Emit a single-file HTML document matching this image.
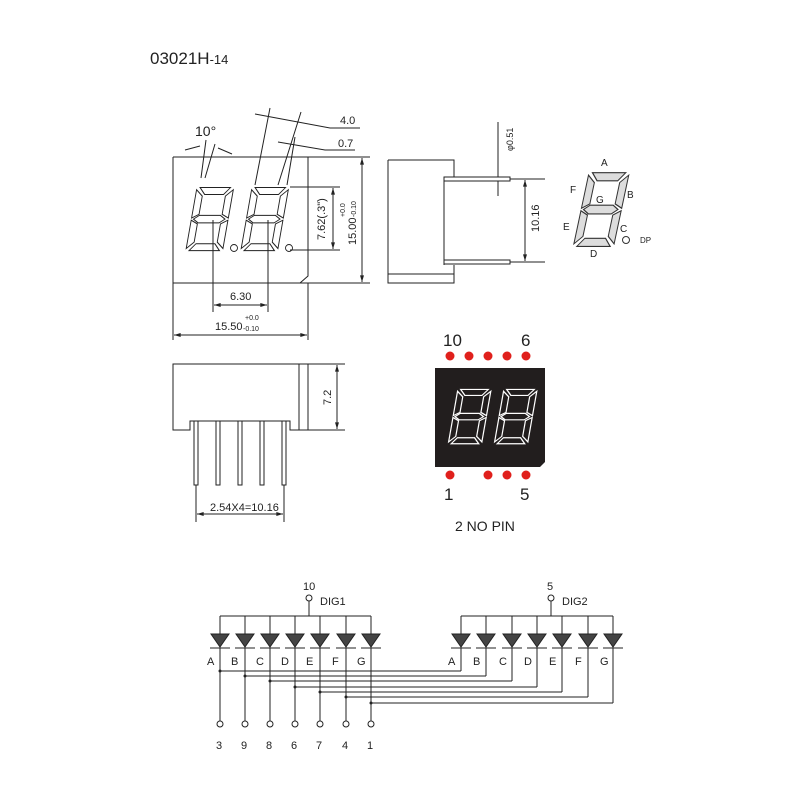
<!DOCTYPE html>
<html><head><meta charset="utf-8"><style>
html,body{margin:0;padding:0;background:#fff}
svg{display:block}
text{font-family:"Liberation Sans",sans-serif;fill:#222}
</style></head><body>
<svg width="800" height="800" viewBox="0 0 800 800" xmlns="http://www.w3.org/2000/svg">
<defs>
<g id="dg">
<polygon points="4,0.5 33,0.5 27.5,7 9.5,7"/>
<polygon points="3,30 8,26.5 28,26.5 33,30 28,33.5 8,33.5"/>
<polygon points="4,59.5 33,59.5 27.5,53 9.5,53"/>
<polygon points="1,2.5 7.5,8.5 7.5,25.5 1,29"/>
<polygon points="36,2.5 36,29 29.5,25.5 29.5,8.5"/>
<polygon points="1,31 7.5,34.5 7.5,51.5 1,57.5"/>
<polygon points="36,31 36,57.5 29.5,51.5 29.5,34.5"/>
</g>
<marker id="ar" viewBox="0 0 10 6" refX="10" refY="3" markerWidth="8" markerHeight="4" orient="auto-start-reverse"><path d="M0,0 L10,3 L0,6 z" fill="#222"/></marker>
</defs>
<text x="150" y="64" font-size="17">03021H<tspan font-size="13">-14</tspan></text>

<g stroke="#222" stroke-width="1" fill="none">
<path d="M173,157 H370 M173,157 V340 M308,157 V276 L300,283 M173,283 H370 M308,283 V340"/>
<line x1="362" y1="158" x2="362" y2="282" marker-start="url(#ar)" marker-end="url(#ar)"/>
<path d="M290,187 H340 M290,250 H340"/>
<line x1="333" y1="188" x2="333" y2="249" marker-start="url(#ar)" marker-end="url(#ar)"/>
<path d="M213,220 V312 M268,220 V312"/>
<line x1="214" y1="305" x2="267" y2="305" marker-start="url(#ar)" marker-end="url(#ar)"/>
<line x1="174" y1="335" x2="307" y2="335" marker-start="url(#ar)" marker-end="url(#ar)"/>
<path d="M201,178 L206,140 M205,178 L215,144"/>
<path d="M185,150 L200,146 M218,148 L232,154"/>
<path d="M255,185 L270,108 M278,185 L301,112 M287,185 L295,137"/>
<path d="M255,114 L330,128 H360 M278,142 L325,150 H355"/>
<path d="M388,160 H454 V177 M388,160 V283 H454 V265 M388,274 H454 M444,177 V265"/>
<rect x="444" y="177" width="66" height="4"/>
<rect x="444" y="260" width="66" height="4"/>
<path d="M510,179 H545 M510,262 H545"/>
<line x1="525" y1="180" x2="525" y2="261" marker-start="url(#ar)" marker-end="url(#ar)"/>
<path d="M498,122 V177 M498,181 V196"/>
<path d="M173,364 H308 V430 H290 V421 H190 V430 H173 Z M299,364 V430 M308,364 H345 M308,430 H345"/>
<line x1="337" y1="365" x2="337" y2="429" marker-start="url(#ar)" marker-end="url(#ar)"/>
<rect x="194" y="421" width="4" height="64"/><rect x="216" y="421" width="4" height="64"/>
<rect x="238" y="421" width="4" height="64"/><rect x="260" y="421" width="4" height="64"/>
<rect x="282" y="421" width="4" height="64"/>
<path d="M196,485 V522 M284,485 V522"/>
<line x1="197" y1="514" x2="283" y2="514" marker-start="url(#ar)" marker-end="url(#ar)"/>
</g>
<g fill="none" stroke="#222" stroke-width="0.9">
<use href="#dg" transform="translate(196,187) skewX(-10) scale(1.05,1.07)"/>
<use href="#dg" transform="translate(251,187) skewX(-10) scale(1.05,1.07)"/>
<circle cx="234" cy="248" r="3.5"/><circle cx="289" cy="248" r="3.5"/>
</g>
<g fill="#ddd" stroke="#333" stroke-width="0.9">
<use href="#dg" transform="translate(588,172) skewX(-12) scale(1.15,1.25)"/>
</g>
<circle cx="626" cy="240" r="3.5" fill="none" stroke="#333"/>
<g font-size="10">
<text x="601" y="166">A</text><text x="570" y="193">F</text><text x="627" y="198">B</text>
<text x="596" y="203">G</text><text x="563" y="230">E</text><text x="620" y="232">C</text>
<text x="590" y="257">D</text><text x="640" y="243" font-size="8">DP</text>
</g>
<g font-size="11">
<text x="195" y="136" font-size="14">10°</text>
<text x="340" y="124">4.0</text><text x="338" y="147">0.7</text>
<text x="230" y="300">6.30</text>
<text x="215" y="330">15.50</text>
<text x="245" y="320" font-size="7">+0.0</text><text x="243" y="331" font-size="7">-0.10</text>
<text x="210" y="511">2.54X4=10.16</text>
<text transform="translate(325,240) rotate(-90)">7.62(.3")</text>
<text transform="translate(356,245) rotate(-90)">15.00</text>
<text transform="translate(345,217) rotate(-90)" font-size="7">+0.0</text>
<text transform="translate(356,217) rotate(-90)" font-size="7">-0.10</text>
<text transform="translate(539,232) rotate(-90)">10.16</text>
<text transform="translate(513,151) rotate(-90)" font-size="9">φ0.51</text>
<text transform="translate(331,405) rotate(-90)">7.2</text>
</g>
<path d="M435,368 H545 V462 L540,467 H435 Z" fill="#221e1e"/>
<g fill="none" stroke="#fff" stroke-width="1.3">
<use href="#dg" transform="translate(457,389) skewX(-10) scale(0.95,0.92)"/>
<use href="#dg" transform="translate(503,389) skewX(-10) scale(0.95,0.92)"/>
</g>
<g fill="#e0201c">
<circle cx="450" cy="356" r="4.5"/><circle cx="469" cy="356" r="4.5"/><circle cx="488" cy="356" r="4.5"/><circle cx="507" cy="356" r="4.5"/><circle cx="526" cy="356" r="4.5"/>
<circle cx="450" cy="475" r="4.5"/><circle cx="488" cy="475" r="4.5"/><circle cx="507" cy="475" r="4.5"/><circle cx="526" cy="475" r="4.5"/>
</g>
<g font-size="17">
<text x="443" y="346">10</text><text x="521" y="346">6</text>
<text x="444" y="500">1</text><text x="520" y="500">5</text>
<text x="455" y="531" font-size="14">2 NO PIN</text>
</g>

<g stroke="#222" stroke-width="1" fill="none">
<path d="M220,616 H371 M309,601 V616 M461,616 H613 M551,601 V616"/>
<circle cx="309" cy="598" r="3"/><circle cx="551" cy="598" r="3"/>
<path d="M220,616 V721 M245,616 V721 M270,616 V721 M295,616 V721 M320,616 V721 M346,616 V721 M371,616 V721"/>
<path d="M461,616 V671 M486,616 V676 M512,616 V681 M537,616 V687 M562,616 V692 M588,616 V697 M613,616 V703"/>
<path d="M220,671 H461 M245,676 H486 M270,681 H512 M295,687 H537 M320,692 H562 M346,697 H588 M371,703 H613"/>
<circle cx="220" cy="724" r="3"/><circle cx="245" cy="724" r="3"/><circle cx="270" cy="724" r="3"/><circle cx="295" cy="724" r="3"/><circle cx="320" cy="724" r="3"/><circle cx="346" cy="724" r="3"/><circle cx="371" cy="724" r="3"/>
</g>
<g fill="#444" stroke="#222">
<g id="dio"><polygon points="211,634 229,634 220,647"/><line x1="210" y1="648" x2="230" y2="648"/></g>
<use href="#dio" x="25"/><use href="#dio" x="50"/><use href="#dio" x="75"/><use href="#dio" x="100"/><use href="#dio" x="126"/><use href="#dio" x="151"/>
<use href="#dio" x="241"/><use href="#dio" x="266"/><use href="#dio" x="292"/><use href="#dio" x="317"/><use href="#dio" x="342"/><use href="#dio" x="368"/><use href="#dio" x="393"/>
</g>
<g fill="#222">
<circle cx="220" cy="671" r="1.5"/><circle cx="245" cy="676" r="1.5"/><circle cx="270" cy="681" r="1.5"/><circle cx="295" cy="687" r="1.5"/><circle cx="320" cy="692" r="1.5"/><circle cx="346" cy="697" r="1.5"/><circle cx="371" cy="703" r="1.5"/>
</g>
<g font-size="11">
<text x="303" y="590">10</text><text x="320" y="605">DIG1</text>
<text x="547" y="590">5</text><text x="562" y="605">DIG2</text>
<text x="207" y="665">A</text><text x="231" y="665">B</text><text x="256" y="665">C</text><text x="281" y="665">D</text><text x="306" y="665">E</text><text x="332" y="665">F</text><text x="357" y="665">G</text>
<text x="448" y="665">A</text><text x="473" y="665">B</text><text x="499" y="665">C</text><text x="524" y="665">D</text><text x="549" y="665">E</text><text x="575" y="665">F</text><text x="600" y="665">G</text>
<text x="216" y="749">3</text><text x="241" y="749">9</text><text x="266" y="749">8</text><text x="291" y="749">6</text><text x="316" y="749">7</text><text x="342" y="749">4</text><text x="367" y="749">1</text>
</g>
</svg>
</body></html>
